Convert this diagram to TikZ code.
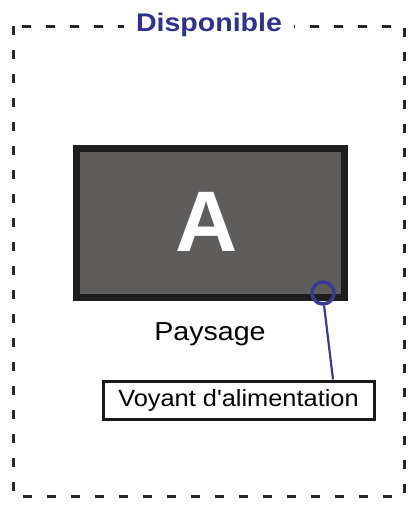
\documentclass[tikz,border=0pt]{standalone}
\usepackage{fontspec}
\setmainfont{Liberation Sans}
\definecolor{titleblue}{HTML}{2E3190}
\definecolor{ledblue}{HTML}{3A3A96}
\definecolor{screenfill}{HTML}{5F5C5C}
\definecolor{screenedge}{HTML}{1E1E1E}
\begin{document}
\begin{tikzpicture}[x=1pt,y=-1pt,
  frame/.style={draw=black!85, line width=3pt, dash pattern=on 9pt off 15pt},
  title/.style={fill=white, text=titleblue, inner xsep=12pt, inner ysep=2pt, font=\fontsize{25.5}{28}\selectfont\bfseries},
  screen/.style={draw=screenedge, fill=screenfill, line width=7pt, minimum width=268pt, minimum height=149pt, inner sep=0pt},
  bigletter/.style={text=white, font=\fontsize{86}{90}\selectfont\bfseries},
  caption/.style={font=\fontsize{26}{30}\selectfont},
  led/.style={circle, draw=ledblue, line width=3.5pt, minimum size=22pt, inner sep=0pt},
  ledline/.style={draw=ledblue, line width=2.2pt},
  labelbox/.style={draw=black!90, fill=white, line width=3pt, minimum width=271pt, minimum height=38pt, inner sep=0pt, font=\fontsize{23.5}{26}\selectfont}]
\useasboundingbox (0,0) rectangle (412,507);
\fill[white] (0,0) rectangle (412,507);
\draw[frame] (13,26) rectangle (404,496);
\node[title] (ttl) at (209,25) {\scalebox{1.12}[1]{Disponible}};
\node[screen] (scr) at (210,222.5) {};
\node[bigletter] (A) at (207,222) {A};
\node[caption] (pay) at (210,334) {\scalebox{1.1}[1]{Paysage}};
\node[labelbox] (vbox) at (238.5,400) {\scalebox{1.08}[1]{Voyant d\textquotesingle alimentation}};
\node[led] (ledc) at (323,293) {};
\coordinate (lx) at (333,0);
\draw[ledline] (ledc.-85) -- (vbox.north -| lx);
\end{tikzpicture}
\end{document}
